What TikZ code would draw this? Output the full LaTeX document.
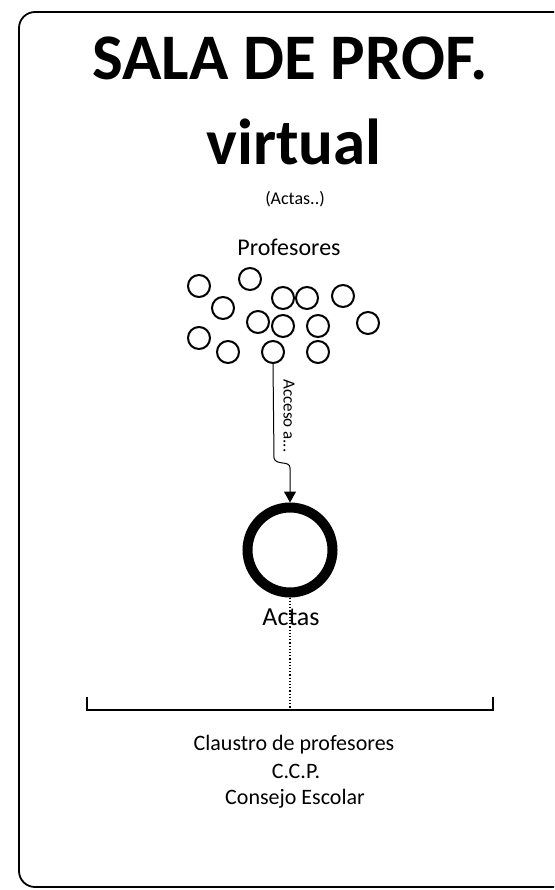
\documentclass[tikz,border=0pt]{standalone}
\usepackage{fontspec}
\setmainfont{Carlito}
\usetikzlibrary{arrows.meta}
\begin{document}
\begin{tikzpicture}[x=1pt,y=-1pt,
  prof/.style={circle,draw,line width=2pt,minimum size=22pt,inner sep=0pt},
  txt/.style={inner sep=0pt,anchor=base,font=\fontsize{22}{25}\selectfont},
  title/.style={inner sep=0pt,anchor=base,font=\fontsize{65}{70}\selectfont\bfseries}]
\useasboundingbox (0,0) rectangle (554,890);
\coordinate (ftr) at (554,12);
\coordinate (fbr) at (554,887);
\draw[line width=1.8pt,rounded corners=16pt] (ftr) -- (19,12) -- (19,887) -- (fbr);
\node[title] (t1) at (290,80) {SALA DE PROF.};
\node[title] (t2) at (294,165) {virtual};
\node[inner sep=0pt,anchor=base,font=\fontsize{18}{20}\selectfont] (t3) at (295,205) {(Actas..)};
\node[inner sep=0pt,anchor=base,font=\fontsize{24}{28}\selectfont] (pl) at (289,255) {Profesores};
\foreach \n/\x/\y in {1/199/286,2/250/279,3/283/298,4/307/298,5/343/296,6/223/308,7/258/322,8/283/326,9/318/326,10/368/323,11/199/338,12/228/352,13/273/352,14/318/352}
  \node[prof] (p\n) at (\x,\y) {};
\node[circle,draw,line width=10pt,minimum size=85pt,inner sep=0pt] (actas) at (290,550) {};
\coordinate (k1) at (274,458);
\coordinate (k2) at (290,468);
\draw[line width=1pt,-{Triangle[length=11pt,width=12pt]}] (p13.south) -- (k1) .. controls (276,466) and (290,460) .. (k2) -- (actas.north);
\node[inner sep=0pt,rotate=-90,font=\fontsize{17}{19}\selectfont] (acc) at (289,416) {Acceso a...};
\coordinate (bt) at (290,710);
\draw[line width=1.2pt,dotted] (actas.south) -- (bt);
\node[inner sep=0pt,anchor=base,font=\fontsize{26}{30}\selectfont] (al) at (291,625) {Actas};
\coordinate (bl) at (87,710);
\coordinate (br) at (493,710);
\draw[line width=1.3pt] ([yshift=13]bl) -- (bl) -- (br) -- ([yshift=13]br);
\node[txt] (c1) at (294,750) {Claustro de profesores};
\node[txt] (c2) at (296,778) {C.C.P.};
\node[txt] (c3) at (295,804) {Consejo Escolar};
\end{tikzpicture}
\end{document}
